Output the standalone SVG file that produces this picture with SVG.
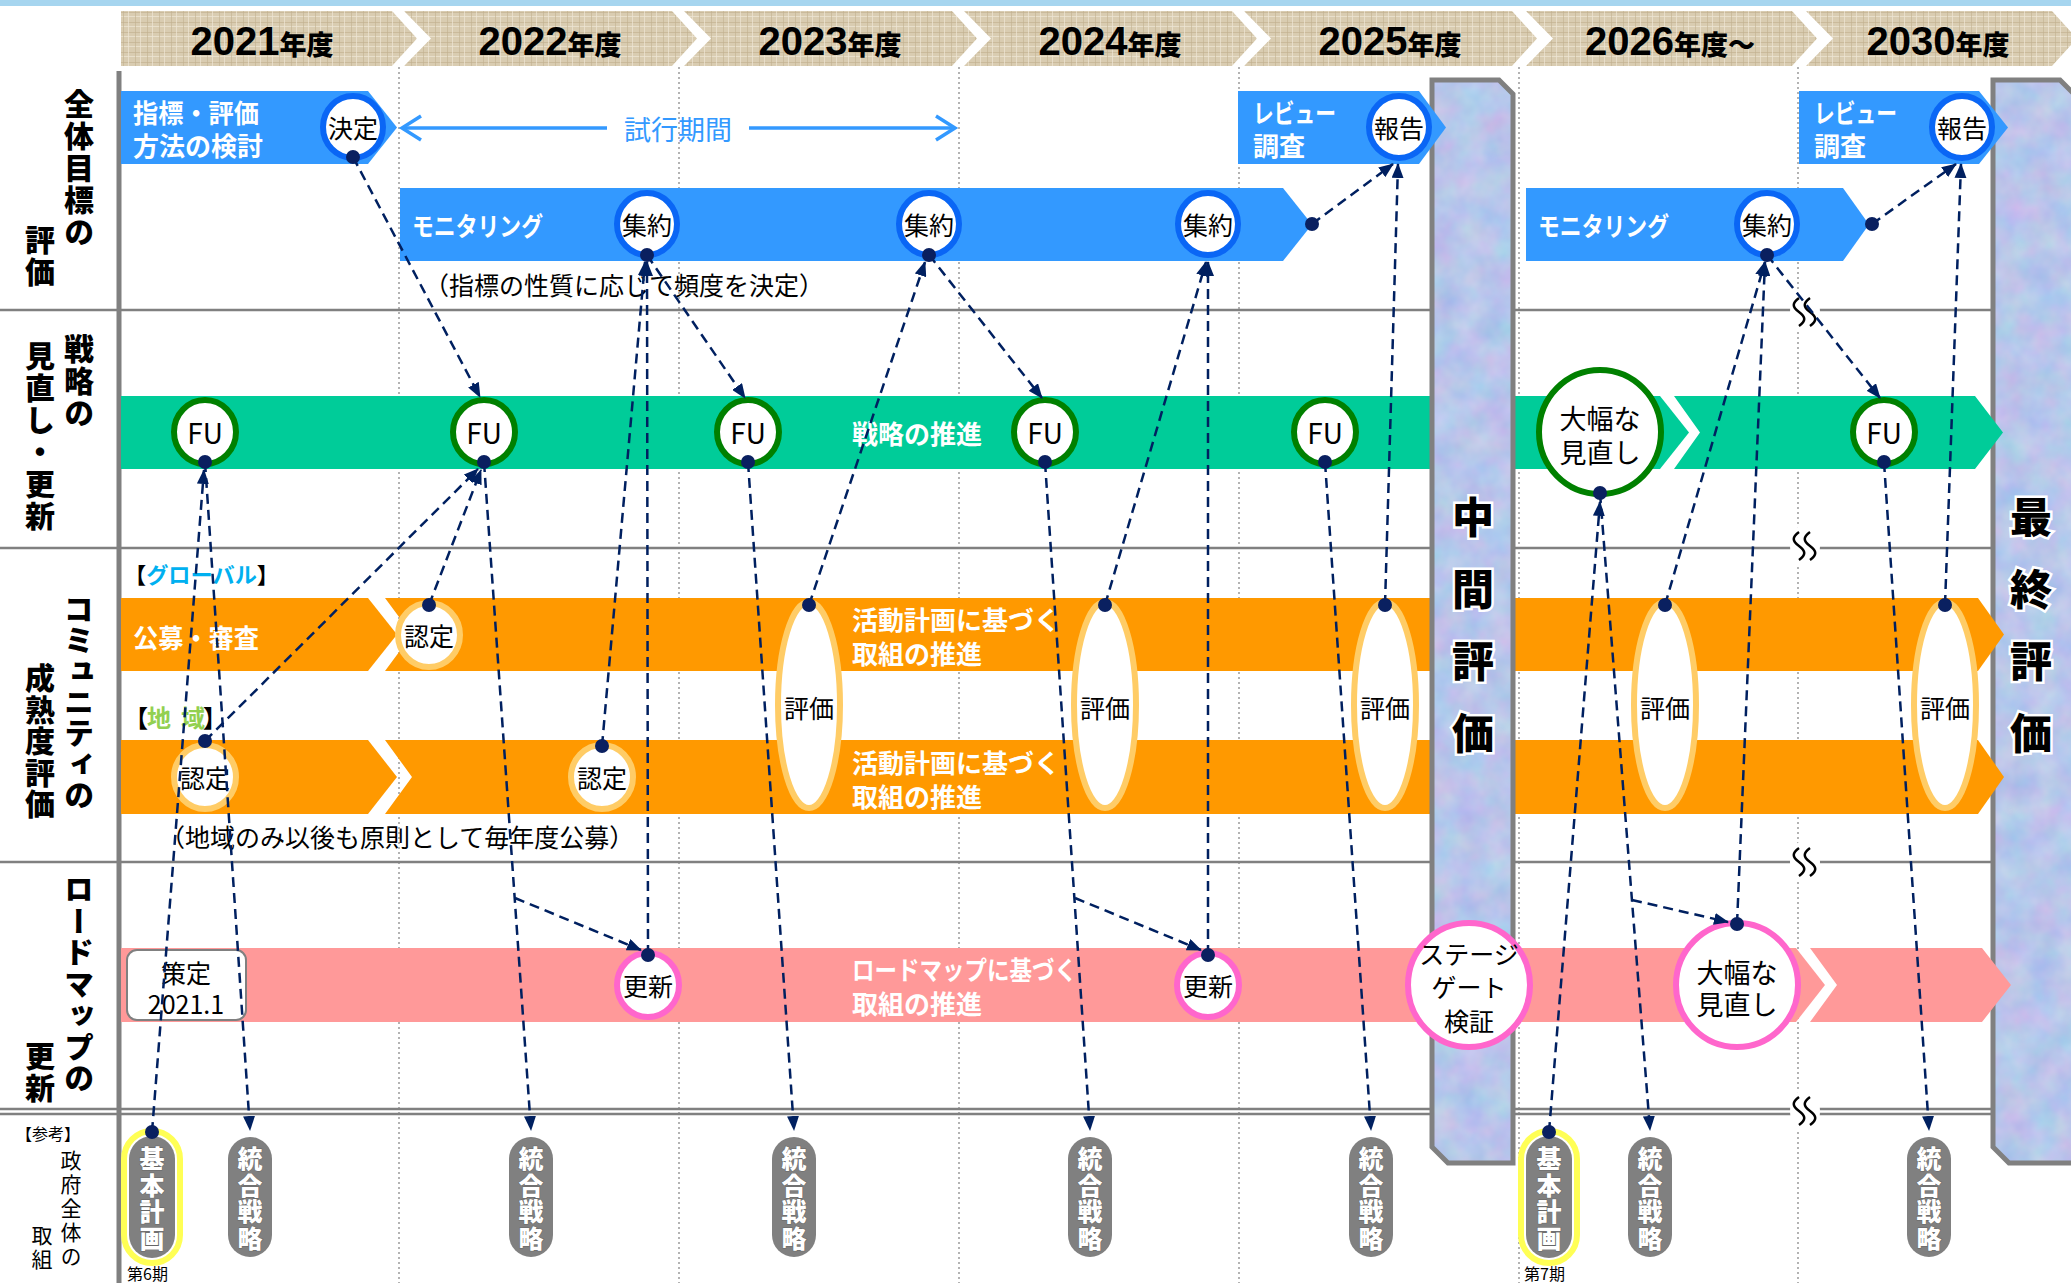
<svg xmlns="http://www.w3.org/2000/svg" width="2071" height="1283" viewBox="0 0 2071 1283">
<defs>
<pattern id="linen" width="12" height="10" patternUnits="userSpaceOnUse">
  <rect width="12" height="10" fill="#d9ccb1"/>
  <rect x="0" y="2" width="12" height="1" fill="#c4b392" opacity="0.7"/>
  <rect x="0" y="6" width="12" height="1" fill="#ece4d2" opacity="0.8"/>
  <rect x="3" y="0" width="1" height="10" fill="#c2b190" opacity="0.6"/>
  <rect x="8" y="0" width="1" height="10" fill="#eee6d5" opacity="0.7"/>
</pattern>
<filter id="marb" x="0" y="0" width="1" height="1" color-interpolation-filters="sRGB">
  <feTurbulence type="fractalNoise" baseFrequency="0.035" numOctaves="3" seed="7" result="n"/>
  <feColorMatrix in="n" type="matrix" values="0.22 0 0 0 0.61  0 0.15 0 0 0.70  0 0 0.06 0 0.89  0 0 0 0 1" result="c"/>
  <feComposite in="c" in2="SourceGraphic" operator="in"/>
</filter>
<marker id="ah" markerWidth="15" markerHeight="12" refX="14" refY="6" orient="auto" markerUnits="userSpaceOnUse">
  <path d="M0,0 L15,6 L0,12 z" fill="#002060"/>
</marker>
<style>
.jp{font-family:"Noto Sans CJK JP","Noto Sans CJK SC",sans-serif}
.c{text-anchor:middle;dominant-baseline:central}
.m{dominant-baseline:central}
.wb{fill:#fff;font-weight:700;font-size:26px}
.lbl{font-weight:900;font-size:30px;writing-mode:vertical-rl;letter-spacing:2px;fill:#000}
.yr{font-family:"Liberation Sans",Arial,sans-serif;font-weight:700;font-size:40px}
.nen{font-family:"Noto Sans CJK JP",sans-serif;font-weight:900;font-size:27px}
.blue{fill:#3399ff}
.green{fill:#00cc99}
.orange{fill:#ff9900}
.pink{fill:#ff9999}
.bring{fill:#fff;stroke:#0a66f5;stroke-width:6}
.gring{fill:#fff;stroke:#008000;stroke-width:6}
.oring{fill:#fff;stroke:#ffcc66;stroke-width:6}
.pring{fill:#fff;stroke:#ff66cc;stroke-width:6}
.ct{font-size:25px;fill:#000}
.pill{fill:#808080}
.pt{fill:#fff;font-weight:900;font-size:25px;stroke:#666;stroke-width:1;paint-order:stroke;writing-mode:vertical-rl;letter-spacing:1.5px}
.grid{stroke:#808080;stroke-width:2.5}
.sep{stroke:#9a9a9a;stroke-width:1.5;stroke-dasharray:2 3}
.colfill{fill:#bccbee;filter:url(#marb)}
.colline{fill:none;stroke:#808080;stroke-width:5}
.ct2{font-size:42px;font-weight:900;fill:#000;stroke:#fff;stroke-width:5;paint-order:stroke;writing-mode:vertical-rl;letter-spacing:30px}
.conn{fill:none;stroke:#002060;stroke-width:2.5;stroke-dasharray:10 6}
.arr{marker-end:url(#ah)}
.dot{fill:#0a2060}
.wave{fill:none;stroke:#000;stroke-width:2.5}
</style>
</defs>

<rect width="2071" height="1283" fill="#fff"/>
<rect x="0" y="0" width="2071" height="6" fill="#a6d5ef"/>

<g id="header">
  <polygon points="121,11 392,11 417,38.5 392,66 121,66" fill="url(#linen)"/>
  <polygon points="404,11 672,11 697,38.5 672,66 404,66 431,38.5" fill="url(#linen)"/>
  <polygon points="684,11 952,11 977,38.5 952,66 684,66 711,38.5" fill="url(#linen)"/>
  <polygon points="964,11 1232,11 1257,38.5 1232,66 964,66 991,38.5" fill="url(#linen)"/>
  <polygon points="1244,11 1512,11 1537,38.5 1512,66 1244,66 1271,38.5" fill="url(#linen)"/>
  <polygon points="1526,11 1792,11 1817,38.5 1792,66 1526,66 1553,38.5" fill="url(#linen)"/>
  <polygon points="1806,11 2052,11 2077,38.5 2052,66 1806,66 1833,38.5" fill="url(#linen)"/>
  <text x="262" y="55" text-anchor="middle"><tspan class="yr">2021</tspan><tspan class="nen">年度</tspan></text>
  <text x="550" y="55" text-anchor="middle"><tspan class="yr">2022</tspan><tspan class="nen">年度</tspan></text>
  <text x="830" y="55" text-anchor="middle"><tspan class="yr">2023</tspan><tspan class="nen">年度</tspan></text>
  <text x="1110" y="55" text-anchor="middle"><tspan class="yr">2024</tspan><tspan class="nen">年度</tspan></text>
  <text x="1390" y="55" text-anchor="middle"><tspan class="yr">2025</tspan><tspan class="nen">年度</tspan></text>
  <text x="1670" y="55" text-anchor="middle"><tspan class="yr">2026</tspan><tspan class="nen">年度～</tspan></text>
  <text x="1938" y="55" text-anchor="middle"><tspan class="yr">2030</tspan><tspan class="nen">年度</tspan></text>
</g>

<g id="grid">
  <line class="sep" x1="399" y1="67" x2="399" y2="1283"/>
  <line class="sep" x1="679" y1="67" x2="679" y2="1283"/>
  <line class="sep" x1="959" y1="67" x2="959" y2="1283"/>
  <line class="sep" x1="1239" y1="67" x2="1239" y2="1283"/>
  <line class="sep" x1="1519" y1="67" x2="1519" y2="1283"/>
  <line class="sep" x1="1798" y1="67" x2="1798" y2="1283"/>
  <line class="grid" x1="0" y1="310" x2="1995" y2="310"/>
  <line class="grid" x1="0" y1="548" x2="1995" y2="548"/>
  <line class="grid" x1="0" y1="862" x2="1995" y2="862"/>
  <line class="grid" x1="0" y1="1109" x2="1995" y2="1109" stroke-width="2"/>
  <line class="grid" x1="0" y1="1114" x2="1995" y2="1114" stroke-width="2"/>
  <line x1="119" y1="71" x2="119" y2="1283" stroke="#808080" stroke-width="5"/>
</g>

<g id="row-labels" class="jp">
  <text class="lbl" x="79" y="89">全体目標の</text>
  <text class="lbl" x="40" y="225">評価</text>
  <text class="lbl" x="79" y="334">戦略の</text>
  <text class="lbl" x="40" y="341">見直し・更新</text>
  <text class="lbl" x="79" y="594" style="letter-spacing:1px">コミュニティの</text>
  <text class="lbl" x="40" y="663" style="letter-spacing:1.4px">成熟度評価</text>
  <text class="lbl" x="79" y="874" style="letter-spacing:1.5px">ロードマップの</text>
  <text class="lbl" x="40" y="1041">更新</text>
  <text class="c" x="48" y="1133" font-size="16">【参考】</text>
  <text x="71" y="1150" font-size="21" style="writing-mode:vertical-rl;letter-spacing:3px">政府全体の</text>
  <text x="42" y="1225" font-size="21" style="writing-mode:vertical-rl;letter-spacing:3px">取組</text>
</g>

<g id="node-saishu" class="jp">
  <polygon class="colfill" points="1993,80 2060,80 2074,94 2074,1163 2009,1163 1993,1147"/>
  <polygon class="colline" points="1993,80 2060,80 2074,94 2074,1163 2009,1163 1993,1147"/>
  <text class="ct2" x="2031" y="496">最終評価</text>
</g>

<g id="bars" class="jp">
  <polygon class="blue" points="121,91 368,91 397,127.5 368,164 121,164"/>
  <polygon class="blue" points="400,188 1283,188 1312,224.5 1283,261 400,261"/>
  <polygon class="blue" points="1526,188 1843,188 1869,224.5 1843,261 1526,261"/>
  <polygon class="blue" points="1799,91 1979,91 2008,127.5 1979,164 1799,164"/>
  <rect class="green" x="121" y="396" width="1314" height="73"/>
  <polygon class="green" points="1513,396 1660,396 1689,432.5 1660,469 1513,469"/>
  <polygon class="green" points="1674,396 1975,396 2003,432.5 1975,469 1674,469 1700,432.5"/>
  <polygon class="orange" points="121,598 368,598 397,634.5 368,671 121,671"/>
  <polygon class="orange" points="385,598 1435,598 1435,671 385,671 412,634.5"/>
  <polygon class="orange" points="1513,598 1978,598 2004,634.5 1978,671 1513,671"/>
  <polygon class="orange" points="121,740 368,740 397,777 368,814 121,814"/>
  <polygon class="orange" points="385,740 1435,740 1435,814 385,814 412,777"/>
  <polygon class="orange" points="1513,740 1978,740 2004,777 1978,814 1513,814"/>
  <rect class="pink" x="121" y="948" width="1314" height="74"/>
  <polygon class="pink" points="1513,948 1796,948 1825,985 1796,1022 1513,1022"/>
  <polygon class="pink" points="1810,948 1982,948 2011,985 1982,1022 1810,1022 1837,985"/>

  <text class="wb m" x="133" y="111" textLength="126" lengthAdjust="spacingAndGlyphs">指標・評価</text>
  <text class="wb m" x="133" y="144">方法の検討</text>
  <text class="wb m" x="412" y="224" textLength="131" lengthAdjust="spacingAndGlyphs">モニタリング</text>
  <text class="wb m" x="1538" y="224" textLength="131" lengthAdjust="spacingAndGlyphs">モニタリング</text>
  <text class="wb m" x="1814" y="111" textLength="83" lengthAdjust="spacingAndGlyphs">レビュー</text>
  <text class="wb m" x="1814" y="144">調査</text>
  <text class="wb m" x="852" y="432" font-size="27">戦略の推進</text>
  <text class="wb m" x="133" y="636" textLength="126" lengthAdjust="spacingAndGlyphs">公募・審査</text>
  <text class="wb m" x="852" y="618">活動計画に基づく</text>
  <text class="wb m" x="852" y="652">取組の推進</text>
  <text class="wb m" x="852" y="761">活動計画に基づく</text>
  <text class="wb m" x="852" y="795">取組の推進</text>
  <text class="wb m" x="852" y="968" textLength="225" lengthAdjust="spacingAndGlyphs">ロードマップに基づく</text>
  <text class="wb m" x="852" y="1002">取組の推進</text>
</g>

<g id="node-chukan" class="jp">
  <polygon class="colfill" points="1432,80 1499,80 1513,94 1513,1163 1448,1163 1432,1147"/>
  <polygon class="colline" points="1432,80 1499,80 1513,94 1513,1163 1448,1163 1432,1147"/>
  <text class="ct2" x="1473" y="496">中間評価</text>
</g>

<g id="bar-review-2025" class="jp">
  <polygon class="blue" points="1238,91 1419,91 1446,127.5 1419,164 1238,164"/>
  <text class="wb m" x="1253" y="111" textLength="83" lengthAdjust="spacingAndGlyphs">レビュー</text>
  <text class="wb m" x="1253" y="144">調査</text>
</g>

<g id="trial-period" class="jp">
  <line x1="402" y1="128" x2="607" y2="128" stroke="#3399ff" stroke-width="3.5"/>
  <line x1="749" y1="128" x2="955" y2="128" stroke="#3399ff" stroke-width="3.5"/>
  <polyline points="421,116 402,128 421,140" fill="none" stroke="#3399ff" stroke-width="3.5"/>
  <polyline points="936,116 955,128 936,140" fill="none" stroke="#3399ff" stroke-width="3.5"/>
  <text class="c" x="678" y="128" font-size="27" fill="#3399ff">試行期間</text>
</g>

<g id="notes" class="jp">
  <text class="m" x="424" y="284" font-size="25">（指標の性質に応じて頻度を決定）</text>
  <text class="m" x="124" y="573" font-size="22" font-weight="700" textLength="155" lengthAdjust="spacingAndGlyphs">【<tspan fill="#00b0f0">グローバル</tspan>】</text>
  <text class="m" x="124" y="716" font-size="24" font-weight="700"><tspan>【</tspan><tspan fill="#92d050" x="147">地</tspan><tspan fill="#92d050" x="181">域</tspan><tspan x="203">】</tspan></text>
  <text class="m" x="160" y="836" font-size="25">（地域のみ以後も原則として毎年度公募）</text>
</g>

<g id="node-kettei" class="jp"><ellipse class="bring" cx="353" cy="127" rx="30" ry="31"/><text class="c ct" x="353" y="127">決定</text></g>
<g id="node-shuyaku-2022" class="jp"><ellipse class="bring" cx="647" cy="224" rx="30" ry="31"/><text class="c ct" x="647" y="224">集約</text></g>
<g id="node-shuyaku-2023" class="jp"><ellipse class="bring" cx="929" cy="224" rx="30" ry="31"/><text class="c ct" x="929" y="224">集約</text></g>
<g id="node-shuyaku-2024" class="jp"><ellipse class="bring" cx="1208" cy="224" rx="30" ry="31"/><text class="c ct" x="1208" y="224">集約</text></g>
<g id="node-houkoku-2025" class="jp"><ellipse class="bring" cx="1399" cy="127" rx="30" ry="31"/><text class="c ct" x="1399" y="127">報告</text></g>
<g id="node-shuyaku-2026" class="jp"><ellipse class="bring" cx="1767" cy="224" rx="30" ry="31"/><text class="c ct" x="1767" y="224">集約</text></g>
<g id="node-houkoku-2030" class="jp"><ellipse class="bring" cx="1962" cy="127" rx="30" ry="31"/><text class="c ct" x="1962" y="127">報告</text></g>

<g id="node-fu-2021" class="jp"><ellipse class="gring" cx="205" cy="432" rx="31" ry="32"/><text class="c" x="205" y="432" font-size="28">FU</text></g>
<g id="node-fu-2022" class="jp"><ellipse class="gring" cx="484" cy="432" rx="31" ry="32"/><text class="c" x="484" y="432" font-size="28">FU</text></g>
<g id="node-fu-2023" class="jp"><ellipse class="gring" cx="748" cy="432" rx="31" ry="32"/><text class="c" x="748" y="432" font-size="28">FU</text></g>
<g id="node-fu-2024" class="jp"><ellipse class="gring" cx="1045" cy="432" rx="31" ry="32"/><text class="c" x="1045" y="432" font-size="28">FU</text></g>
<g id="node-fu-2025" class="jp"><ellipse class="gring" cx="1325" cy="432" rx="31" ry="32"/><text class="c" x="1325" y="432" font-size="28">FU</text></g>
<g id="node-fu-2030" class="jp"><ellipse class="gring" cx="1884" cy="432" rx="31" ry="32"/><text class="c" x="1884" y="432" font-size="28">FU</text></g>
<g id="node-minaoshi-strategy" class="jp"><ellipse class="gring" cx="1600" cy="432" rx="61" ry="62"/><text class="c" x="1600" y="417" font-size="27">大幅な<tspan x="1600" dy="34">見直し</tspan></text></g>

<g id="node-nintei-global-2022" class="jp"><ellipse class="oring" cx="429" cy="635" rx="31" ry="32"/><text class="c ct" x="429" y="635">認定</text></g>
<g id="node-nintei-region-2021" class="jp"><ellipse class="oring" cx="205" cy="777" rx="31" ry="32"/><text class="c ct" x="205" y="777">認定</text></g>
<g id="node-nintei-region-2022" class="jp"><ellipse class="oring" cx="602" cy="777" rx="31" ry="32"/><text class="c ct" x="602" y="777">認定</text></g>
<g id="node-hyoka-2023" class="jp"><ellipse class="oring" cx="809" cy="705" rx="31" ry="103"/><text class="c ct" x="809" y="707">評価</text></g>
<g id="node-hyoka-2024" class="jp"><ellipse class="oring" cx="1105" cy="705" rx="31" ry="103"/><text class="c ct" x="1105" y="707">評価</text></g>
<g id="node-hyoka-2025" class="jp"><ellipse class="oring" cx="1385" cy="705" rx="31" ry="103"/><text class="c ct" x="1385" y="707">評価</text></g>
<g id="node-hyoka-2026" class="jp"><ellipse class="oring" cx="1665" cy="705" rx="31" ry="103"/><text class="c ct" x="1665" y="707">評価</text></g>
<g id="node-hyoka-2030" class="jp"><ellipse class="oring" cx="1945" cy="705" rx="31" ry="103"/><text class="c ct" x="1945" y="707">評価</text></g>

<g id="node-sakutei" class="jp"><rect x="127" y="950" width="119" height="70" rx="10" fill="#fff" stroke="#808080" stroke-width="2"/><text class="c" x="186" y="972" font-size="25">策定<tspan x="186" dy="31">2021.1</tspan></text></g>
<g id="node-koshin-2022" class="jp"><ellipse class="pring" cx="648" cy="985" rx="31" ry="32"/><text class="c ct" x="648" y="985">更新</text></g>
<g id="node-koshin-2024" class="jp"><ellipse class="pring" cx="1208" cy="985" rx="31" ry="32"/><text class="c ct" x="1208" y="985">更新</text></g>
<g id="node-stagegate" class="jp"><ellipse class="pring" cx="1469" cy="985" rx="61" ry="62"/><text class="c" x="1469" y="953" font-size="25">ステージ<tspan x="1469" dy="33">ゲート</tspan><tspan x="1469" dy="34">検証</tspan></text></g>
<g id="node-minaoshi-roadmap" class="jp"><ellipse class="pring" cx="1737" cy="985" rx="61" ry="62"/><text class="c" x="1737" y="971" font-size="27">大幅な<tspan x="1737" dy="32">見直し</tspan></text></g>

<g id="node-kihon-6" class="jp">
  <rect x="124" y="1131" width="56" height="132" rx="28" fill="none" stroke="#ffff55" stroke-width="6"/>
  <rect class="pill" x="129" y="1136" width="46" height="122" rx="23"/>
  <text class="pt" x="152" y="1146">基本計画</text>
  <text class="m" x="127" y="1273" font-size="16">第6期</text>
</g>
<g id="node-kihon-7" class="jp">
  <rect x="1521" y="1131" width="56" height="132" rx="28" fill="none" stroke="#ffff55" stroke-width="6"/>
  <rect class="pill" x="1526" y="1136" width="46" height="122" rx="23"/>
  <text class="pt" x="1549" y="1146">基本計画</text>
  <text class="m" x="1524" y="1273" font-size="16">第7期</text>
</g>
<g id="node-togo-2021" class="jp"><rect class="pill" x="228" y="1137" width="44" height="120" rx="22"/><text class="pt" x="250" y="1146">統合戦略</text></g>
<g id="node-togo-2022" class="jp"><rect class="pill" x="509" y="1137" width="44" height="120" rx="22"/><text class="pt" x="531" y="1146">統合戦略</text></g>
<g id="node-togo-2023" class="jp"><rect class="pill" x="772" y="1137" width="44" height="120" rx="22"/><text class="pt" x="794" y="1146">統合戦略</text></g>
<g id="node-togo-2024" class="jp"><rect class="pill" x="1068" y="1137" width="44" height="120" rx="22"/><text class="pt" x="1090" y="1146">統合戦略</text></g>
<g id="node-togo-2025" class="jp"><rect class="pill" x="1349" y="1137" width="44" height="120" rx="22"/><text class="pt" x="1371" y="1146">統合戦略</text></g>
<g id="node-togo-2026" class="jp"><rect class="pill" x="1628" y="1137" width="44" height="120" rx="22"/><text class="pt" x="1650" y="1146">統合戦略</text></g>
<g id="node-togo-2030" class="jp"><rect class="pill" x="1907" y="1137" width="44" height="120" rx="22"/><text class="pt" x="1929" y="1146">統合戦略</text></g>

<g id="breaks">
  <g transform="translate(1805,312)"><ellipse rx="15" ry="22" fill="#fff"/><path class="wave" d="M-6,-14 c-7,5 -7,9 0,14 c7,5 7,9 0,14 M5,-14 c-7,5 -7,9 0,14 c7,5 7,9 0,14"/></g>
  <g transform="translate(1805,546)"><ellipse rx="15" ry="22" fill="#fff"/><path class="wave" d="M-6,-14 c-7,5 -7,9 0,14 c7,5 7,9 0,14 M5,-14 c-7,5 -7,9 0,14 c7,5 7,9 0,14"/></g>
  <g transform="translate(1805,862)"><ellipse rx="15" ry="22" fill="#fff"/><path class="wave" d="M-6,-14 c-7,5 -7,9 0,14 c7,5 7,9 0,14 M5,-14 c-7,5 -7,9 0,14 c7,5 7,9 0,14"/></g>
  <g transform="translate(1805,1111)"><ellipse rx="15" ry="22" fill="#fff"/><path class="wave" d="M-6,-14 c-7,5 -7,9 0,14 c7,5 7,9 0,14 M5,-14 c-7,5 -7,9 0,14 c7,5 7,9 0,14"/></g>
</g>

<g id="connectors">
  <path class="conn arr" d="M353,157 L480,397"/>
  <path class="conn arr" d="M647,255 L745,398"/>
  <path class="conn arr" d="M929,255 L1042,398"/>
  <path class="conn arr" d="M1312,224 L1393,164"/>
  <path class="conn arr" d="M1385,605 L1398,164"/>
  <path class="conn arr" d="M1872,224 L1956,164"/>
  <path class="conn arr" d="M1945,605 L1961,164"/>
  <path class="conn arr" d="M1767,255 L1880,398"/>
  <path class="conn arr" d="M809,605 L925,262"/>
  <path class="conn arr" d="M1105,605 L1206,262"/>
  <path class="conn arr" d="M1665,605 L1765,262"/>
  <path class="conn arr" d="M1208,955 L1208,262"/>
  <path class="conn arr" d="M648,955 L647,262"/>
  <path class="conn arr" d="M602,746 L645,262"/>
  <path class="conn arr" d="M1737,924 L1765,262"/>
  <path class="conn arr" d="M152,1132 L204,470"/>
  <path class="conn arr" d="M205,462 L250,1130"/>
  <path class="conn arr" d="M205,741 L478,469"/>
  <path class="conn arr" d="M429,605 L481,470"/>
  <path class="conn arr" d="M484,462 L531,1130"/>
  <path class="conn arr" d="M515,898 L641,950"/>
  <path class="conn arr" d="M748,462 L794,1130"/>
  <path class="conn arr" d="M1045,462 L1090,1130"/>
  <path class="conn arr" d="M1075,898 L1201,950"/>
  <path class="conn arr" d="M1325,462 L1371,1130"/>
  <path class="conn arr" d="M1549,1132 L1600,502"/>
  <path class="conn arr" d="M1600,493 L1650,1130"/>
  <path class="conn arr" d="M1632,900 L1728,922"/>
  <path class="conn arr" d="M1884,462 L1929,1130"/>
  <circle class="dot" cx="353" cy="157" r="7"/>
  <circle class="dot" cx="647" cy="255" r="7"/>
  <circle class="dot" cx="929" cy="255" r="7"/>
  <circle class="dot" cx="1767" cy="255" r="7"/>
  <circle class="dot" cx="1312" cy="224" r="7"/>
  <circle class="dot" cx="1872" cy="224" r="7"/>
  <circle class="dot" cx="205" cy="462" r="7"/>
  <circle class="dot" cx="484" cy="462" r="7"/>
  <circle class="dot" cx="748" cy="462" r="7"/>
  <circle class="dot" cx="1045" cy="462" r="7"/>
  <circle class="dot" cx="1325" cy="462" r="7"/>
  <circle class="dot" cx="1884" cy="462" r="7"/>
  <circle class="dot" cx="1600" cy="493" r="7"/>
  <circle class="dot" cx="429" cy="605" r="7"/>
  <circle class="dot" cx="205" cy="741" r="7"/>
  <circle class="dot" cx="602" cy="746" r="7"/>
  <circle class="dot" cx="809" cy="605" r="7"/>
  <circle class="dot" cx="1105" cy="605" r="7"/>
  <circle class="dot" cx="1385" cy="605" r="7"/>
  <circle class="dot" cx="1665" cy="605" r="7"/>
  <circle class="dot" cx="1945" cy="605" r="7"/>
  <circle class="dot" cx="648" cy="955" r="7"/>
  <circle class="dot" cx="1208" cy="955" r="7"/>
  <circle class="dot" cx="1737" cy="924" r="7"/>
  <circle class="dot" cx="152" cy="1132" r="7"/>
  <circle class="dot" cx="1549" cy="1132" r="7"/>
</g>
</svg>
